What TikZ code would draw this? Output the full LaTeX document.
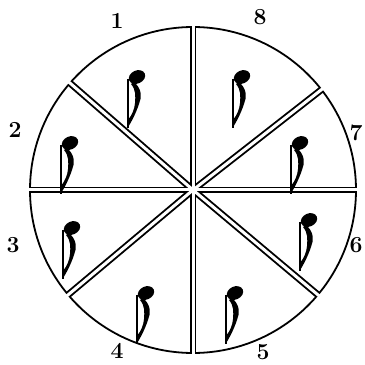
\documentclass[tikz,border=0pt]{standalone}
\begin{document}
\begin{tikzpicture}[x=1pt,y=1pt,
  rim/.style={line width=1.8pt},
  cutblack/.style={line width=6.8pt},
  cutwhite/.style={line width=3pt,white},
  num/.style={font=\fontsize{23}{23}\selectfont\bfseries,inner sep=0pt},
  eighthnote/.pic={
    \fill[rotate=25] (0,0) ellipse (8.5 and 6.5);
    \draw[line width=2pt] (-9,-2) -- (-9,-51);
    \fill (-3,-5) .. controls (5,-12) and (5,-20) .. (2,-27)
      .. controls (-1,-36) and (-5,-44) .. (-9.5,-51) -- (-9,-43)
      .. controls (-5,-38) and (-2.5,-32) .. (-2,-26)
      .. controls (-1.5,-19) and (-1,-13) .. (-6,-7) -- cycle;
  }]
  \clip (0,0) rectangle (365,365);
  \fill[white] (0,0) rectangle (365,365);
  \coordinate (ctr) at (193,175);

  % ===== wheel =====
  \draw[rim] (ctr) circle (163);
  \foreach \a in {90,139,180,220,270,320,0,38}
    \draw[cutblack] (ctr) -- ++(\a:163);
  \foreach \a in {90,139,180,220,270,320,0,38}
    \draw[cutwhite] (ctr) -- ++(\a:168);

  % ===== notes =====
  \pic at (137,288) {eighthnote};
  \pic at (242,288) {eighthnote};
  \pic at (300,222) {eighthnote};
  \pic at (70,222) {eighthnote};
  \pic at (72,137) {eighthnote};
  \pic at (309,145) {eighthnote};
  \pic at (146,72) {eighthnote};
  \pic at (235,72) {eighthnote};

  % ===== numbers =====
  \node[num] (n1) at (117,344) {1};
  \node[num] (n2) at (15,235) {2};
  \node[num] (n3) at (13,120) {3};
  \node[num] (n4) at (117,14) {4};
  \node[num] (n5) at (263,13) {5};
  \node[num] (n6) at (356,120) {6};
  \node[num] (n7) at (356,232) {7};
  \node[num] (n8) at (260,348) {8};
\end{tikzpicture}
\end{document}
